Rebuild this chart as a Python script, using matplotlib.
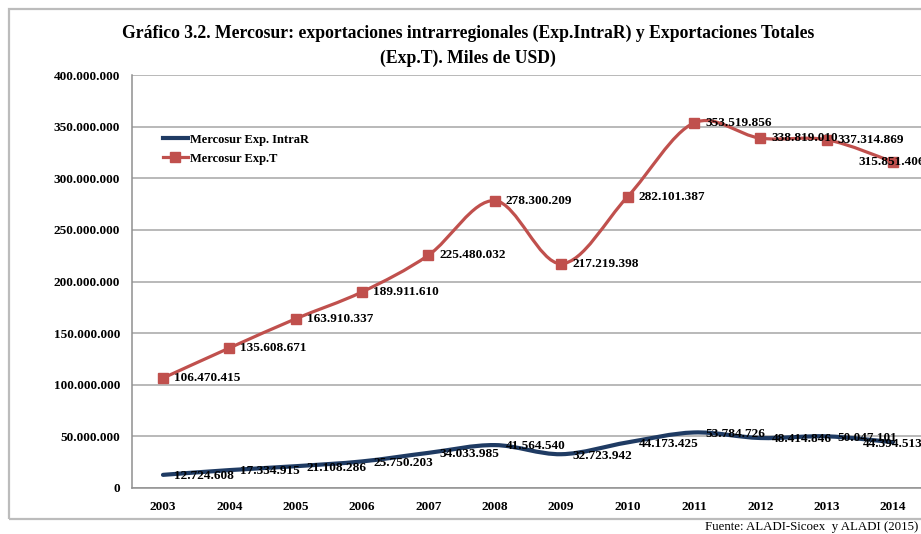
import matplotlib
matplotlib.use("Agg")
import matplotlib.pyplot as plt
from matplotlib.path import Path
from matplotlib.patches import PathPatch, Rectangle
import numpy as np

years = [2003, 2004, 2005, 2006, 2007, 2008, 2009, 2010, 2011, 2012, 2013, 2014]
intra = [12724608, 17334915, 21108286, 25750203, 34033985, 41564540,
         32723942, 44173425, 53784726, 48414846, 50047101, 44394513]
total = [106470415, 135608671, 163910337, 189911610, 225480032, 278300209,
         217219398, 282101387, 353519856, 338819010, 337314869, 315851406]
yticks = [0, 50000000, 100000000, 150000000, 200000000, 250000000,
          300000000, 350000000, 400000000]

title = ("Gráfico 3.2. Mercosur: exportaciones intrarregionales (Exp.IntraR) y Exportaciones Totales\n"
         "(Exp.T). Miles de USD)")
source = "Fuente: ALADI-Sicoex  y ALADI (2015)"

def fmt(v):
    return f"{int(v):,}".replace(",", ".")

SERIF = ["Liberation Serif", "DejaVu Serif"]
BLUE = "#1F3B63"
RED = "#C0504D"

fig = plt.figure(figsize=(9.21, 5.34), dpi=100)
W, H = 921, 534

# outer chart border
fig.patches.append(Rectangle((9 / W, (H - 519) / H), 1.2, (519 - 9) / H,
                             transform=fig.transFigure, fill=False,
                             edgecolor="#bcbcbc", lw=1.6, zorder=0))

ax = fig.add_axes([132 / W, (H - 488) / H, (921 - 132) / W, (488 - 75) / H])
ax.set_xlim(2002.533, 2014.422)
ax.set_ylim(0, 400000000)

def smooth_path(xs, ys, t=1 / 6):
    xs = np.asarray(xs, float)
    ys = np.asarray(ys, float)
    n = len(xs)
    verts = [(xs[0], ys[0])]
    codes = [Path.MOVETO]
    for i in range(n - 1):
        x0, y0 = (xs[i - 1], ys[i - 1]) if i > 0 else (xs[i], ys[i])
        x3, y3 = (xs[i + 2], ys[i + 2]) if i + 2 < n else (xs[i + 1], ys[i + 1])
        c1 = (xs[i] + (xs[i + 1] - x0) * t, ys[i] + (ys[i + 1] - y0) * t)
        c2 = (xs[i + 1] - (x3 - xs[i]) * t, ys[i + 1] - (y3 - ys[i]) * t)
        verts += [c1, c2, (xs[i + 1], ys[i + 1])]
        codes += [Path.CURVE4] * 3
    return Path(verts, codes)

ax.add_patch(PathPatch(smooth_path(years, intra), fill=False, edgecolor=BLUE,
                       lw=3.0, capstyle="round", zorder=3))
ax.add_patch(PathPatch(smooth_path(years, total), fill=False, edgecolor=RED,
                       lw=2.3, capstyle="round", zorder=3))
ax.plot(years, total, linestyle="none", marker="s", markersize=7.5,
        color=RED, zorder=4)

# legend proxies
ax.plot([], [], color=BLUE, lw=3.0, label="Mercosur Exp. IntraR")
ax.plot([], [], color=RED, lw=2.3, marker="s", markersize=7.5, label="Mercosur Exp.T")
leg = ax.legend(loc="upper left", bbox_to_anchor=(0.025, 0.885), frameon=False,
                prop={"family": SERIF, "weight": "bold", "size": 9},
                handlelength=2.0, handletextpad=0.15, labelspacing=0.55)

lblkw = dict(fontsize=9.5, fontweight="bold", family=SERIF, color="black",
             va="center", textcoords="offset points", zorder=5)
for i, (x, v) in enumerate(zip(years, total)):
    dx = 8 if i < len(years) - 1 else -25
    ax.annotate(fmt(v), (x, v), xytext=(dx, 0), ha="left", **lblkw)
for i, (x, v) in enumerate(zip(years, intra)):
    dx = 8 if i < len(years) - 1 else -22
    dy = -1
    ax.annotate(fmt(v), (x, v), xytext=(dx, dy), ha="left", **lblkw)

ax.set_yticks(yticks)
ax.set_yticklabels([fmt(v) for v in yticks])
ax.set_xticks(years)
ax.set_xticklabels([str(y) for y in years])
for lab in ax.get_xticklabels() + ax.get_yticklabels():
    lab.set_family(SERIF)
    lab.set_fontweight("bold")
    lab.set_fontsize(9.5)
ax.tick_params(axis="both", length=0)
ax.tick_params(axis="y", pad=8.5)
ax.tick_params(axis="x", pad=9)
ax.grid(axis="y", color="#a6a6a6", lw=1.1, zorder=1)
ax.set_axisbelow(True)
for s in ["top", "right"]:
    ax.spines[s].set_visible(False)
for s in ["left", "bottom"]:
    ax.spines[s].set_color("#909090")
    ax.spines[s].set_linewidth(1.1)

fig.text(468 / W, 1 - 46 / H, title, ha="center", va="center",
         family=SERIF, fontweight="bold", fontsize=12.7, linespacing=1.55)
fig.text(918 / W, 1 - 527 / H, source, ha="right", va="center",
         family=SERIF, fontsize=9.3)

fig.savefig("out.png", dpi=100)
